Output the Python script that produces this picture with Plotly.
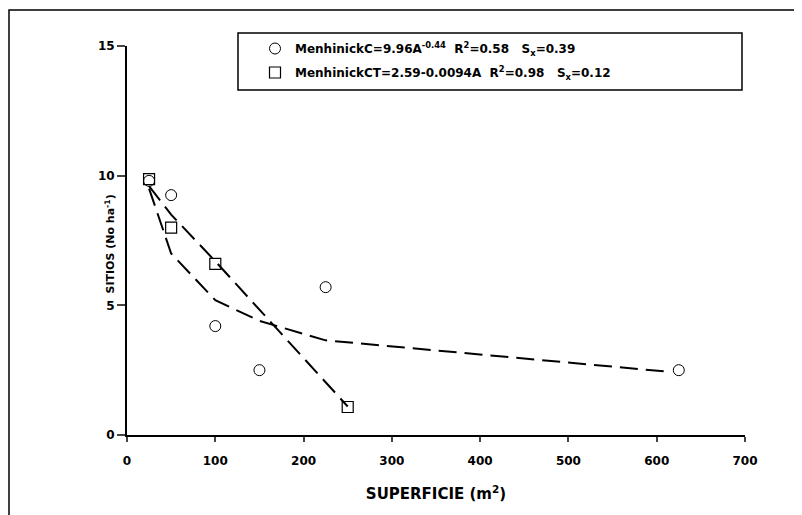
import plotly.graph_objects as go

# Observed data
area_c = [25, 50, 100, 150, 225, 625]
sitios_c = [9.8, 9.25, 4.2, 2.5, 5.7, 2.5]
area_ct = [25, 50, 100, 250]
sitios_ct = [9.87, 8.0, 6.6, 1.08]

# Fitted curves
fit_c_x = [25, 50, 100, 150, 225, 610]
fit_c_y = [9.5, 7.0, 5.2, 4.4, 3.65, 2.45]
fit_ct_x = [25, 50, 100, 250]
fit_ct_y = [9.6, 8.5, 6.7, 1.1]

xticks = [0, 100, 200, 300, 400, 500, 600, 700]
yticks = [0, 5, 10, 15]

FONT = "DejaVu Sans"
OFF = 8  # page body margin offset

fig = go.Figure()
fig.add_trace(go.Scatter(x=fit_c_x, y=fit_c_y, mode="lines", showlegend=False,
                         line=dict(color="black", width=2, dash="18px,8px")))
fig.add_trace(go.Scatter(x=fit_ct_x, y=fit_ct_y, mode="lines", showlegend=False,
                         line=dict(color="black", width=2, dash="18px,8px")))
fig.add_trace(go.Scatter(x=area_c, y=sitios_c, mode="markers", legendgroup="a",
                         name="<b>MenhinickC=9.96A<sup>-0.44</sup>  R<sup>2</sup>=0.58   S<sub>x</sub>=0.39</b>",
                         marker=dict(symbol="circle-open", size=11, color="black", line=dict(width=1))))
fig.add_trace(go.Scatter(x=area_ct, y=sitios_ct, mode="markers", legendgroup="b",
                         name="<b>MenhinickCT=2.59-0.0094A  R<sup>2</sup>=0.98   S<sub>x</sub>=0.12</b>",
                         marker=dict(symbol="square-open", size=11, color="black", line=dict(width=1.2))))

# target pixel geometry in the screenshot
L, R, T, B = 127, 57, 46, 80
W, H = 802, 515
pw, ph = W - L - R, H - T - B

def px(xp):
    return (xp - L) / pw

def py(yp):
    return (H - B - yp) / ph

fig.update_layout(
    width=W - OFF, height=H - OFF,
    margin=dict(l=L - OFF, r=R, t=T - OFF, b=B, pad=0),
    paper_bgcolor="white", plot_bgcolor="white",
    font=dict(family=FONT, size=12, color="black"),
    showlegend=True,
    legend=dict(x=px(255), y=py(34), xanchor="left", yanchor="top",
                bgcolor="rgba(0,0,0,0)", borderwidth=0, tracegroupgap=5,
                font=dict(family=FONT, size=12, color="black")),
    xaxis=dict(range=[0, 700], tickvals=xticks, ticktext=[f"<b>{v}</b>" for v in xticks],
               ticks="outside", ticklen=5, ticklabelstandoff=9,
               tickwidth=1.5, showline=True, linecolor="black", linewidth=2,
               showgrid=False, zeroline=False, tickfont=dict(family=FONT, size=12),
               title=dict(text="<b>SUPERFICIE (m<sup>2</sup>)</b>", font=dict(family=FONT, size=15), standoff=21)),
    yaxis=dict(range=[0, 15], tickvals=yticks, ticktext=[f"<b>{v}</b>" for v in yticks],
               ticks="outside", ticklen=8,
               tickwidth=1.5, showline=True, linecolor="black", linewidth=2,
               showgrid=False, zeroline=False, tickfont=dict(family=FONT, size=12)),
    shapes=[
        dict(type="rect", xref="paper", yref="paper", x0=px(238), x1=px(742),
             y0=py(90), y1=py(33), line=dict(color="black", width=1.5)),
        dict(type="rect", xref="paper", yref="paper", x0=px(9), x1=px(806),
             y0=py(518), y1=py(10), line=dict(color="black", width=1.5)),
    ],
    annotations=[
        dict(text="<b>SITIOS (No ha<sup>-1</sup>)</b>", textangle=-90, xref="paper", yref="paper",
             x=px(101), y=py(244), showarrow=False, font=dict(family=FONT, size=11)),
    ],
)

fig.write_html("out.html")
